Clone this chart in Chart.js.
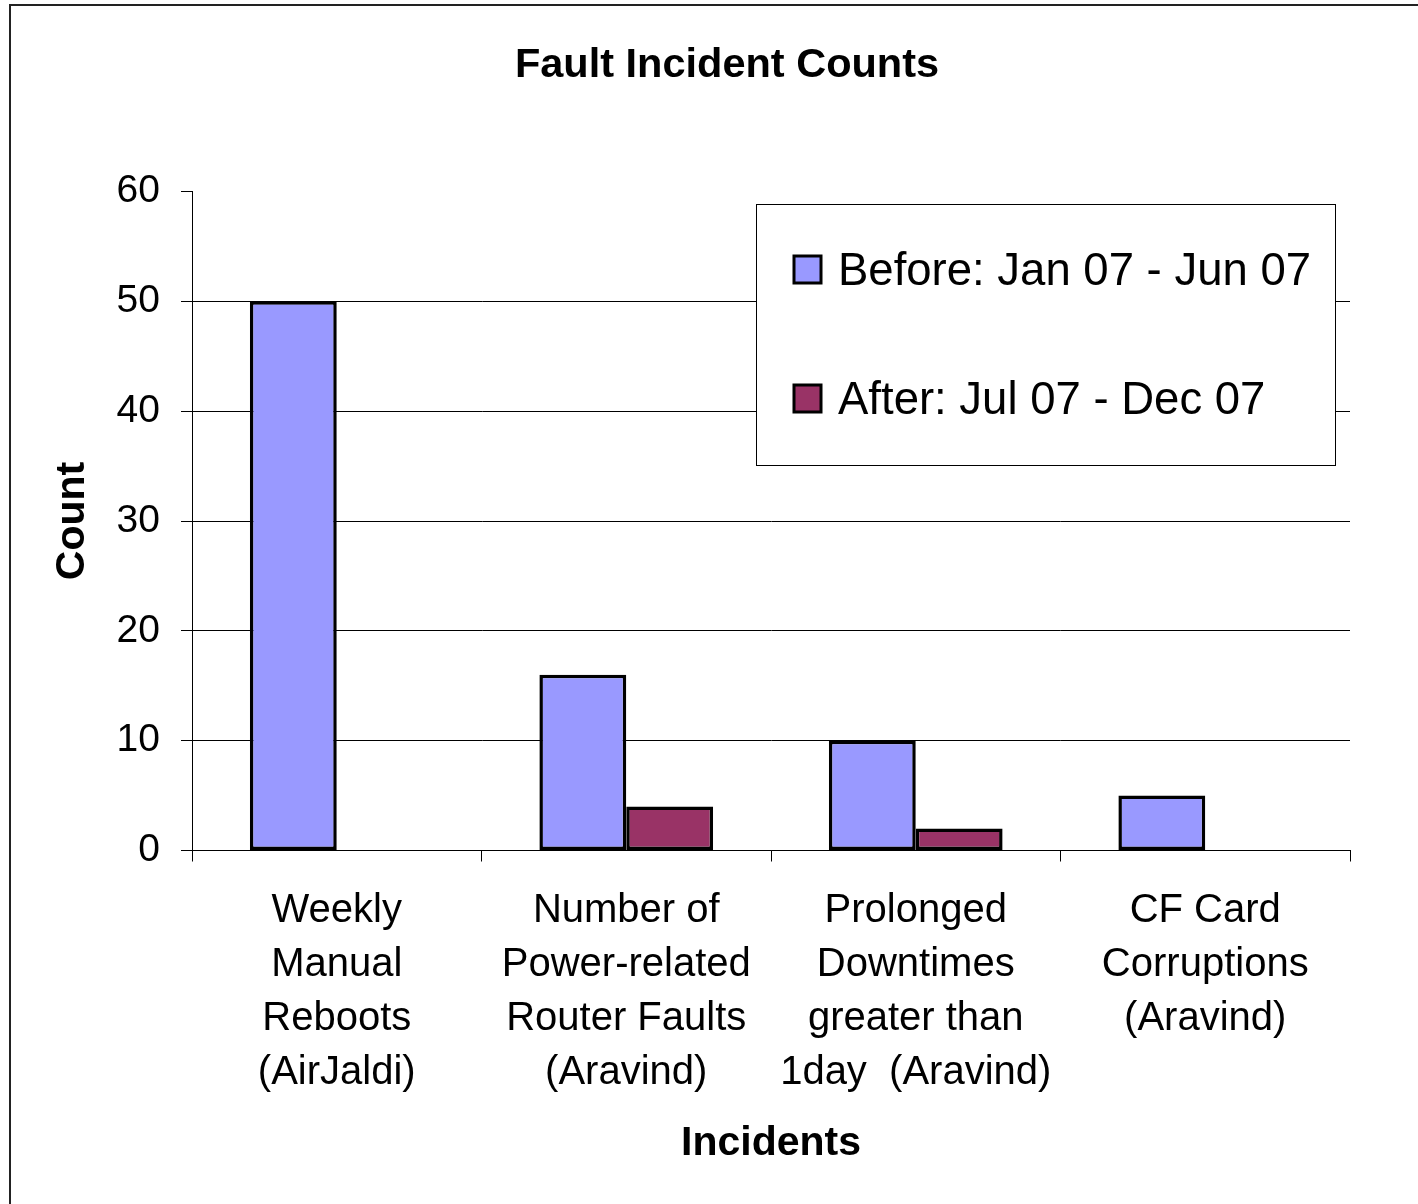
<!DOCTYPE html>
<html>
<head>
<meta charset="utf-8">
<script src="https://cdn.jsdelivr.net/npm/chart.js@4.4.1/dist/chart.umd.min.js"></script>
<style>
  html, body { margin: 0; padding: 0; background: #fff; }
  #wrap { width: 1418px; height: 1204px; position: relative; }
</style>
</head>
<body>
<div id="wrap"><canvas id="c" width="1418" height="1204"></canvas></div>
<script>
const chartTitle = 'Fault Incident Counts';
const xTitle = 'Incidents';
const yTitle = 'Count';
const categories = [
  ['Weekly', 'Manual', 'Reboots', '(AirJaldi)'],
  ['Number of', 'Power-related', 'Router Faults', '(Aravind)'],
  ['Prolonged', 'Downtimes', 'greater than', '1day  (Aravind)'],
  ['CF Card', 'Corruptions', '(Aravind)']
];
const seriesNames = ['Before: Jan 07 - Jun 07', 'After: Jul 07 - Dec 07'];
const beforeValues = [50, 16, 10, 5];
const afterValues = [0, 4, 2, 0];
const yTicks = [0, 10, 20, 30, 40, 50, 60];
const seriesColors = ['#9999FF', '#993366'];

const FONT = '"Liberation Sans", Arial, Helvetica, sans-serif';

const framePlugin = {
  id: 'frame',
  beforeDraw(chart) {
    const ctx = chart.ctx;
    ctx.save();
    ctx.fillStyle = '#fff';
    ctx.fillRect(0, 0, chart.width, chart.height);
    ctx.strokeStyle = '#222';
    ctx.lineWidth = 2;
    ctx.strokeRect(10, 5, chart.width + 40, chart.height + 40);
    ctx.restore();
  },
  afterDraw(chart) {
    const ctx = chart.ctx;
    ctx.save();
    // chart title
    ctx.fillStyle = '#000';
    ctx.font = 'bold 41.5px ' + FONT;
    ctx.textAlign = 'center';
    ctx.textBaseline = 'middle';
    ctx.fillText(chartTitle, 727, 66);

    // legend box
    const bx = 756.5, by = 204.5, bw = 579, bh = 261;
    ctx.fillStyle = '#fff';
    ctx.fillRect(bx, by, bw, bh);
    ctx.strokeStyle = '#000';
    ctx.lineWidth = 1;
    ctx.strokeRect(bx, by, bw, bh);
    const itemsY = [270, 399];
    chart.data.datasets.forEach((ds, i) => {
      const cy = itemsY[i];
      ctx.fillStyle = ds.backgroundColor;
      ctx.fillRect(794, cy - 14, 27, 27);
      ctx.strokeStyle = '#000';
      ctx.lineWidth = 3;
      ctx.strokeRect(794, cy - 14, 27, 27);
      ctx.fillStyle = '#000';
      ctx.font = '45.5px ' + FONT;
      ctx.textAlign = 'left';
      ctx.textBaseline = 'middle';
      ctx.fillText(ds.label, 838, cy + 2);
    });
    ctx.restore();
  }
};

new Chart(document.getElementById('c'), {
  type: 'bar',
  data: {
    labels: categories,
    datasets: [
      { label: seriesNames[0], data: beforeValues, backgroundColor: seriesColors[0], borderColor: '#000', borderWidth: 3.5, borderSkipped: false },
      { label: seriesNames[1], data: afterValues, backgroundColor: seriesColors[1], borderColor: '#000', borderWidth: 3.5, borderSkipped: false }
    ]
  },
  options: {
    responsive: false,
    animation: false,
    devicePixelRatio: 1,
    layout: { padding: { top: 191.5, right: 68, left: 0, bottom: 0 } },
    datasets: { bar: { categoryPercentage: 0.6, barPercentage: 1.0 } },
    plugins: {
      legend: { display: false },
      title: { display: false },
      tooltip: { enabled: false }
    },
    scales: {
      x: {
        afterFit(scale) { scale.height = 353.5; },
        grid: { offset: true, drawOnChartArea: false, tickLength: 11, tickColor: '#000', color: '#000' },
        border: { display: true, color: '#000', width: 1 },
        ticks: { color: '#000', font: { family: FONT, size: 40, lineHeight: 1.35 }, padding: 22, maxRotation: 0, autoSkip: false },
        title: { display: true, text: xTitle, color: '#000', font: { family: FONT, size: 41, weight: 'bold', lineHeight: 1.2 }, padding: { top: 0, bottom: 36 } }
      },
      y: {
        min: 0, max: 60,
        afterFit(scale) { scale.width = 192; },
        afterBuildTicks(scale) { scale.ticks = yTicks.map(v => ({ value: v })); },
        grid: {
          color: (c) => (c.tick && c.tick.value === 60) ? 'rgba(0,0,0,0)' : '#000',
          tickColor: '#000', tickLength: 11, lineWidth: 1
        },
        border: { display: true, color: '#000', width: 1 },
        ticks: { color: '#000', font: { family: FONT, size: 39 }, padding: 21 },
        title: { display: true, text: yTitle, color: '#000', font: { family: FONT, size: 41, weight: 'bold', lineHeight: 1.2 }, padding: { top: 48, bottom: 0 } }
      }
    }
  },
  plugins: [framePlugin]
});
</script>
</body>
</html>
